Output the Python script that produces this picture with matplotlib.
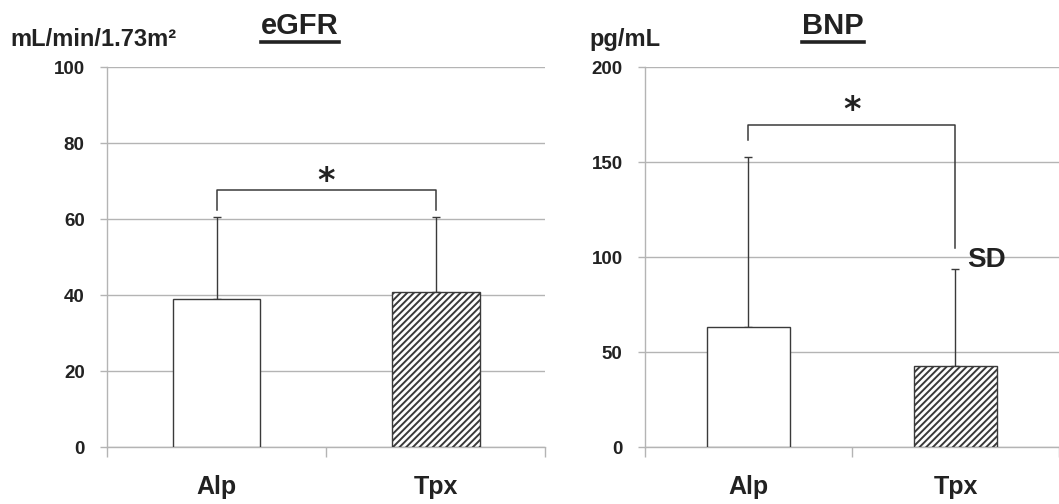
import matplotlib.pyplot as plt
import numpy as np

# data
groups = ['Alp', 'Tpx']
egfr_mean = [38.9, 40.7]
egfr_sd = [21.6, 19.9]
bnp_mean = [63.2, 42.8]
bnp_sd = [89.3, 50.9]

# significance brackets: level, left leg end, right leg end, star level
egfr_bracket = [67.6, 62.4, 62.4, 70.0]
bnp_bracket = [169.5, 161.6, 105.0, 177.0]

grey = '#b4b4b4'
dark = '#3a3a3a'
plt.rcParams['hatch.linewidth'] = 1.4
plt.rcParams['hatch.color'] = '#303030'


def draw_panel(ax, means, sds, ymax, ystep, bracket):
    x = np.arange(len(groups)) + 0.5
    ax.bar(x[0], means[0], width=0.4, facecolor='white', edgecolor=dark, linewidth=1.0, zorder=3)
    ax.bar(x[1], means[1], width=0.4, facecolor='white', edgecolor=dark, linewidth=1.0,
           hatch='/////', zorder=3)
    ax.errorbar(x, means, yerr=[[0] * len(sds), sds], fmt='none', ecolor=dark,
                elinewidth=1.0, capsize=3, capthick=1.0, zorder=2)

    lvl, l_end, r_end, star = bracket
    ax.plot([x[0], x[0], x[1], x[1]], [l_end, lvl, lvl, r_end], color=dark, lw=1.1, zorder=4)
    ax.text((x[0] + x[1]) / 2, star, '*', ha='center', va='center', fontsize=24,
            fontweight='bold', family='DejaVu Sans', color='#222222')

    ax.set_xlim(0, len(groups))
    ax.set_ylim(0, ymax)
    ax.set_yticks(np.arange(0, ymax + 1, ystep))
    ax.grid(axis='y', color=grey, lw=1.0, zorder=0)
    ax.set_axisbelow(True)
    ax.set_xticks([0, 1, 2])
    ax.set_xticklabels([])
    ax.set_xticks(x, minor=True)
    ax.set_xticklabels(groups, minor=True, fontsize=18, fontweight='bold',
                       family='Liberation Sans', color='#222222')
    ax.tick_params(axis='x', which='major', length=7, color=grey, width=1.0)
    ax.tick_params(axis='x', which='minor', length=0, pad=20)
    ax.tick_params(axis='y', length=5, color=grey, width=1.0, pad=11)
    for lab in ax.get_yticklabels():
        lab.set_fontsize(13.5)
        lab.set_fontweight('bold')
        lab.set_family('Liberation Sans')
        lab.set_color('#222222')
    for s in ['top', 'right']:
        ax.spines[s].set_visible(False)
    for s in ['left', 'bottom']:
        ax.spines[s].set_color(grey)
        ax.spines[s].set_linewidth(1.0)


fig = plt.figure(figsize=(10.59, 5.04), dpi=100)
ax1 = fig.add_axes([0.101, 0.113, 0.414, 0.754])
ax2 = fig.add_axes([0.609, 0.113, 0.391, 0.754])

draw_panel(ax1, egfr_mean, egfr_sd, 100, 20, egfr_bracket)
draw_panel(ax2, bnp_mean, bnp_sd, 200, 50, bnp_bracket)

ax2.text(1.556, 98.5, 'SD', ha='left', va='center', fontsize=20, fontweight='bold',
         family='Liberation Sans', color='#222222', zorder=5)

# titles with underline
for cx, title in [(300 / 1059, 'eGFR'), (833 / 1059, 'BNP')]:
    t = fig.text(cx, 1 - 26 / 504, title, ha='center', va='center', fontsize=21,
                 fontweight='bold', family='Liberation Sans', color='#222222')
    fig.canvas.draw()
    bb = t.get_window_extent().transformed(fig.transFigure.inverted())
    fig.add_artist(plt.Line2D([bb.x0, bb.x1], [1 - 42 / 504] * 2, color='#222222', lw=2.6,
                              transform=fig.transFigure))

fig.text(10 / 1059, 1 - 40 / 504, 'mL/min/1.73m²', ha='left', va='center', fontsize=17,
         fontweight='bold', family='Liberation Sans', color='#222222')
fig.text(589 / 1059, 1 - 40 / 504, 'pg/mL', ha='left', va='center', fontsize=17,
         fontweight='bold', family='Liberation Sans', color='#222222')

fig.savefig('out.png', dpi=100)
